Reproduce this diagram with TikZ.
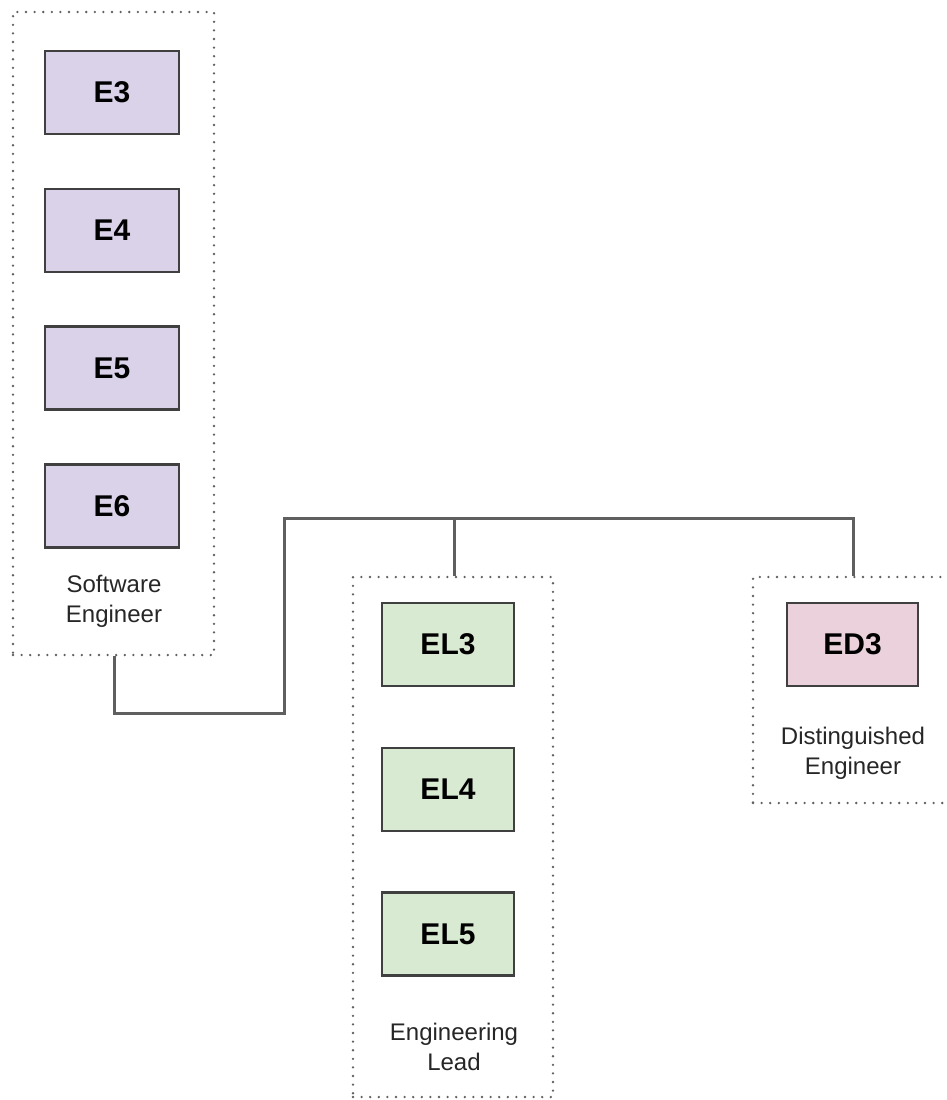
\documentclass[tikz,border=0pt]{standalone}
\usepackage{fontspec}
\setmainfont{Liberation Sans}
\definecolor{purp}{HTML}{D9D2E9}
\definecolor{grn}{HTML}{D9EAD3}
\definecolor{pnk}{HTML}{EAD1DC}
\definecolor{edge}{HTML}{404040}
\definecolor{conn}{HTML}{5F5F5F}
\definecolor{dotc}{HTML}{606060}
\begin{document}
\begin{tikzpicture}[x=1pt,y=-1pt,
  level/.style={draw=edge, line width=2.6pt, minimum width=134pt, minimum height=83pt, inner sep=0pt, font=\fontsize{30}{32}\selectfont\bfseries},
  group/.style={draw=dotc, line width=2.6pt, line cap=round, dash pattern=on 0pt off 8.6pt},
  caption/.style={align=center, font=\fontsize{24}{30}\selectfont, text=black!85},
  link/.style={draw=conn, line width=3pt}]
\useasboundingbox (0,0) rectangle (947,1100);
% containers
\node[group, minimum width=201pt, minimum height=643pt, inner sep=0pt] (seg) at (113.5,333.5) {};
\node[group, minimum width=200pt, minimum height=520pt, inner sep=0pt] (elg) at (453,837) {};
\node[group, minimum width=200pt, minimum height=226pt, inner sep=0pt] (edg) at (853,690) {};
% levels
\node[level, fill=purp] (e3) at (112,92.5) {E3};
\node[level, fill=purp] (e4) at (112,230.5) {E4};
\node[level, fill=purp] (e5) at (112,368) {E5};
\node[level, fill=purp] (e6) at (112,506) {E6};
\node[level, fill=grn, minimum width=132pt] (el3) at (448,644.5) {EL3};
\node[level, fill=grn, minimum width=132pt] (el4) at (448,789.5) {EL4};
\node[level, fill=grn, minimum width=132pt] (el5) at (448,934) {EL5};
\node[level, fill=pnk, minimum width=131pt] (ed3) at (852.5,644.5) {ED3};
% captions
\node[caption] (sec) at (114,601) {Software\\Engineer};
\node[caption] (elc) at (454,1047) {Engineering\\Lead};
\node[caption] (edc) at (853,753) {Distinguished\\Engineer};
% connectors
\coordinate (j1) at (114,713);
\coordinate (j2) at (284,713);
\coordinate (j3) at (284,518);
\coordinate (j4) at (454,518);
\coordinate (j5) at (853,518);
\draw[link] (seg.south -| j1) -- (j1) -- (j2) -- (j3) -- (j5) -- (edg.north -| j5);
\draw[link] (j4) -- (elg.north -| j4);
\end{tikzpicture}
\end{document}
